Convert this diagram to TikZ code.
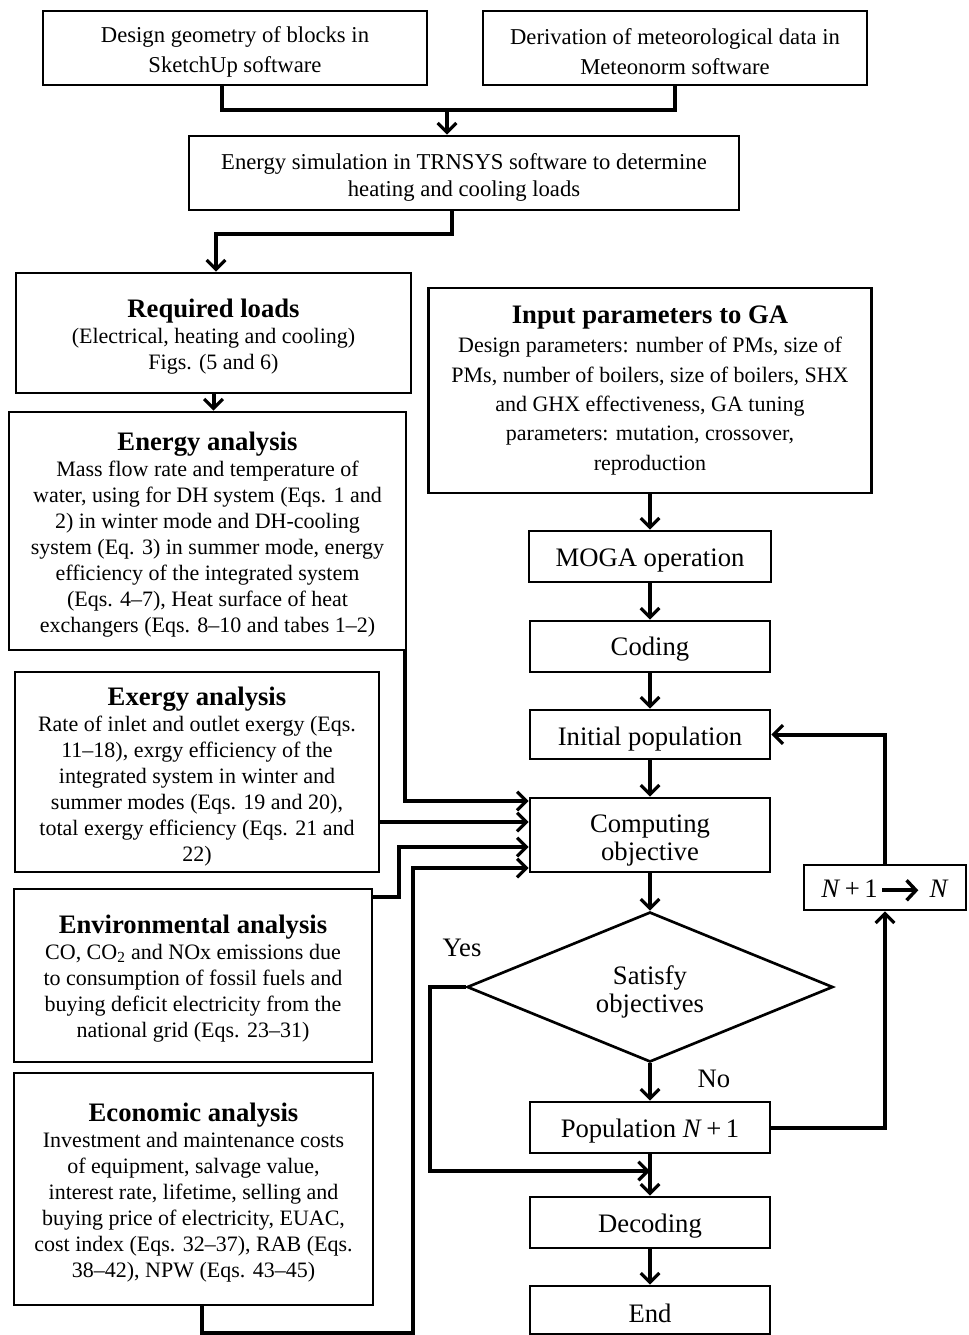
\documentclass[tikz,border=0pt]{standalone}
\usepackage{fontspec}
\setmainfont{Liberation Serif}
\usetikzlibrary{arrows.meta,calc,shapes.geometric}
\begin{document}
\begin{tikzpicture}[x=0.75pt,y=-0.75pt,
  sz/.style 2 args={minimum width=#1*0.75pt,minimum height=#2*0.75pt},
  box/.style={draw,line width=2pt,align=center,inner sep=0pt,fill=white},
  topbox/.style={box,font=\fontsize{17}{22.5}\selectfont},
  midbox/.style={box,font=\fontsize{17}{20}\selectfont},
  anbox/.style={box,font=\fontsize{16.5}{19.5}\selectfont},
  gabox/.style={box,font=\fontsize{16.5}{22}\selectfont},
  opbox/.style={box,font=\fontsize{20}{21}\selectfont},
  lbl/.style={font=\fontsize{20}{23}\selectfont,inner sep=0pt},
  conn/.style={line width=3pt},
  arr/.style={conn,-{Straight Barb[length=7pt,width=14pt,line width=2.4pt]}}
]
\newcommand{\ttlf}{\fontsize{20}{23}\selectfont\bfseries}
\newcommand{\tup}[1]{\rule{0pt}{#1}}
\useasboundingbox (0,0) rectangle (968,1335);

% top boxes
\node[topbox,sz={384}{74}] (b1) at (235,48) {\tup{17.5pt}Design geometry of blocks in\\SketchUp software};
\node[topbox,sz={384}{74}] (b2) at (675,48) {\tup{17.5pt}Derivation of meteorological data in\\Meteonorm software};
\node[midbox,sz={550}{74}] (b3) at (464,173) {\tup{18.5pt}Energy simulation in TRNSYS software to determine\\heating and cooling loads};

% left column
\node[anbox,sz={395}{120}] (b4) at (213.5,333) {\tup{20pt}{\ttlf Required loads}\\(Electrical, heating and cooling)\\Figs. (5 and 6)};
\node[anbox,sz={397}{238}] (b5) at (207.5,531) {\tup{20pt}{\ttlf Energy analysis}\\Mass flow rate and temperature of\\water, using for DH system (Eqs. 1 and\\2) in winter mode and DH-cooling\\system (Eq. 3) in summer mode, energy\\efficiency of the integrated system\\(Eqs. 4–7), Heat surface of heat\\exchangers (Eqs. 8–10 and tabes 1–2)};
\node[anbox,sz={364}{200}] (b6) at (197,772) {\tup{20pt}{\ttlf Exergy analysis}\\Rate of inlet and outlet exergy (Eqs.\\11–18), exrgy efficiency of the\\integrated system in winter and\\summer modes (Eqs. 19 and 20),\\total exergy efficiency (Eqs. 21 and\\22)};
\node[anbox,sz={358}{173}] (b7) at (193,975.5) {\tup{18pt}{\ttlf Environmental analysis}\\CO, CO\textsubscript{2} and NOx emissions due\\to consumption of fossil fuels and\\buying deficit electricity from the\\national grid (Eqs. 23–31)};
\node[anbox,sz={359}{232}] (b8) at (193.5,1189) {\tup{19.5pt}{\ttlf Economic analysis}\\Investment and maintenance costs\\of equipment, salvage value,\\interest rate, lifetime, selling and\\buying price of electricity, EUAC,\\cost index (Eqs. 32–37), RAB (Eqs.\\38–42), NPW (Eqs. 43–45)};

% right column
\node[gabox,sz={443}{205}] (p1) at (650,390.5) {{\ttlf Input parameters to GA}\\Design parameters: number of PMs, size of\\PMs, number of boilers, size of boilers, SHX\\and GHX effectiveness, GA tuning\\parameters: mutation, crossover,\\reproduction};
\node[opbox,sz={242}{51}] (p2) at (650,556.5) {\tup{18.5pt}MOGA operation};
\node[opbox,sz={240}{51}] (p3) at (650,646.5) {\tup{18.5pt}Coding};
\node[opbox,sz={240}{49}] (p4) at (650,734.5) {\tup{20pt}Initial population};
\node[opbox,sz={240}{74}] (p5) at (650,835) {\tup{21pt}Computing\\objective};
\node[opbox,draw,diamond,aspect=2.44,inner sep=0pt,sz={366}{150}] (d) at (650,987) {\tup{21pt}Satisfy\\objectives};
\node[opbox,sz={240}{51}] (p6) at (650,1127.5) {\tup{18.5pt}Population \textit{N}\,+\,1};
\node[opbox,sz={240}{51}] (p7) at (650,1222.5) {\tup{19pt}Decoding};
\node[opbox,sz={240}{48}] (p8) at (650,1310) {\tup{18.5pt}End};
\node[opbox,sz={162}{45}] (n) at (885,887.5) {\tup{18.5pt}\textit{N}\,+\,1\hspace{2pt}\tikz[baseline=-0.6ex]\draw[line width=2.8pt,-{Straight Barb[length=7pt,width=15pt,line width=2.6pt]}] (0pt,0pt) -- (27pt,0pt);\hspace{7pt}\textit{N}};

\node[lbl] (yes) at (462,948) {Yes};
\node[lbl] (no) at (714,1079) {No};

% top connectors
\coordinate (m1) at (447,110);
\coordinate (m2) at (216,234);
\draw[conn] ($(b1.south)+(-13,0)$) |- (m1) -| (b2.south);
\draw[arr] (m1) -- (b3.north -| m1);
\draw[arr] ($(b3.south)+(-12,0)$) |- (m2) -- (b4.north -| m2);
\draw[arr] (b4.south) -- (b5.north -| b4.south);

% right column arrows
\draw[arr] (p1.south) -- (p2.north);
\draw[arr] (p2.south) -- (p3.north);
\draw[arr] (p3.south) -- (p4.north);
\draw[arr] (p4.south) -- (p5.north);
\draw[arr] (p5.south) -- (d.north);
\draw[arr] (d.south) -- (p6.north);
\draw[arr] (p6.south) -- (p7.north);
\draw[arr] (p7.south) -- (p8.north);

% loop
\draw[arr] (p6.east) -| (n.south);
\draw[arr] (n.north) |- (p4.east);

% yes branch
\coordinate (y1) at (430,1171);
\draw[arr] (d.west) -| (y1) -- (p6.south |- y1);

% inputs to computing objective
\coordinate (a1) at ($(p5.west)+(0,-34)$);
\coordinate (a2) at ($(p5.west)+(0,-13)$);
\coordinate (a3) at ($(p5.west)+(0,12)$);
\coordinate (a4) at ($(p5.west)+(0,33)$);
\coordinate (e1) at (399,897);
\coordinate (k) at (413,1333);
\draw[arr] ($(b5.south east)+(-2,0)$) |- (a1);
\draw[arr] (b6.east |- a2) -- (a2);
\draw[arr] (b7.east |- e1) -- (e1) |- (a3);
\draw[arr] ($(b8.south)+(8.5,0)$) |- (k) |- (a4);
\end{tikzpicture}
\end{document}
